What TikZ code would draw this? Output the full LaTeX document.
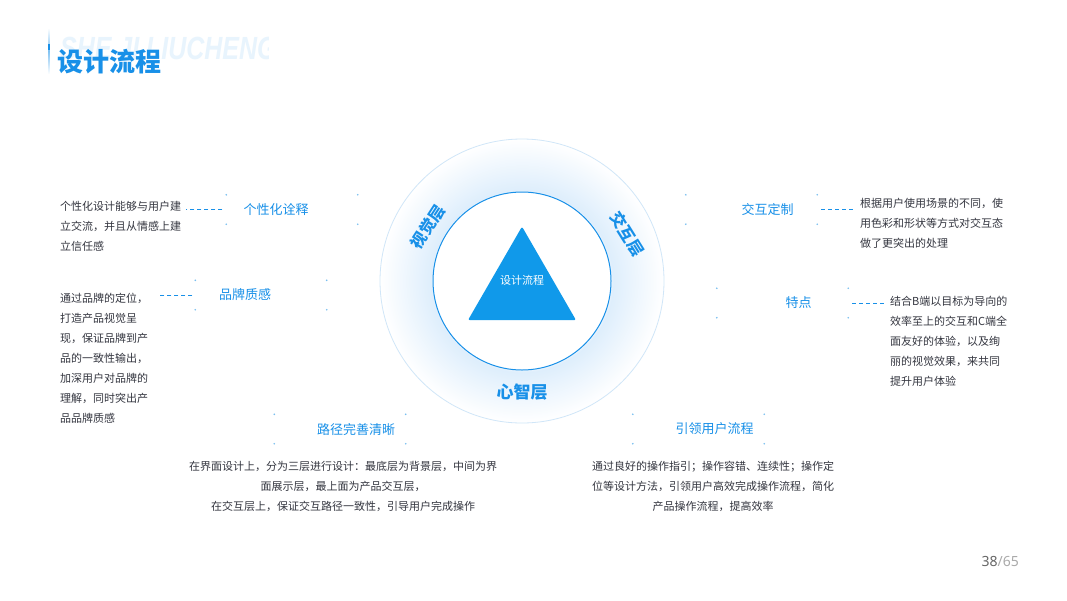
\documentclass[tikz,border=0pt]{standalone}
\usepackage{fontspec}
\setmainfont{Noto Sans CJK SC}
\newfontfamily\wmfont{Liberation Sans}
\newfontfamily\pgfont{Noto Sans}
\usepackage{tikz}
\usetikzlibrary{arrows.meta, positioning, shapes.geometric, calc}
\definecolor{mainblue}{RGB}{24,144,232}
\definecolor{triblue}{RGB}{16,153,234}
\definecolor{bodygrey}{RGB}{52,54,64}
\definecolor{ringblue}{RGB}{208,230,248}
\definecolor{glowblue}{RGB}{222,238,252}
\definecolor{markblue}{RGB}{120,190,240}
\definecolor{wmblue}{RGB}{232,244,253}
\definecolor{pgdark}{RGB}{102,102,102}
\definecolor{pglight}{RGB}{170,170,170}
\pgfdeclareradialshading{halo}{\pgfpoint{0bp}{0bp}}{color(0bp)=(white); color(15bp)=(white); color(16bp)=(glowblue); color(20bp)=(glowblue!55!white); color(25bp)=(white); color(50bp)=(white)}

\begin{document}
\begin{tikzpicture}[
    x=1pt, y=-1pt,
    body/.style={font=\fontsize{11}{20}\selectfont, text=bodygrey, inner sep=0pt, align=left},
    lbl/.style={font=\fontsize{13}{15}\selectfont, text=mainblue, inner sep=0pt},
    mbox/.style={minimum width=131pt, minimum height=29pt, inner sep=0pt},
    layer/.style={font=\fontsize{16}{18}\selectfont\bfseries, text=mainblue, inner sep=0pt},
    dashln/.style={mainblue, line width=1pt, dash pattern=on 4pt off 3pt}
]
\fill[white] (0,0) rectangle (1067,600);
\useasboundingbox (0,0) rectangle (1067,600);
\begin{scope}
\clip (55,20) rectangle (268,80);
\node[anchor=base west, inner sep=0pt, xscale=0.78, text=wmblue, font=\wmfont\fontsize{32}{32}\selectfont\bfseries\itshape] (wm) at (60,59) {SHE JI LIUCHENG};
\end{scope}
\shade[top color=white, bottom color=white, middle color=mainblue!55] (48.5,28) rectangle (49.5,74);
\fill[mainblue] (48,44) rectangle (50,50);
\node[anchor=west, inner sep=0pt, text=mainblue, font=\fontsize{26}{26}\selectfont\bfseries] (title) at (57,62) {设计流程};
\node[circle, minimum size=284pt, draw=ringblue, line width=0.8pt, shading=halo] (outer) at (522,281) {};
\node[circle, minimum size=178pt, draw=mainblue, line width=1pt, fill=white] (inner) at (outer) {};
\node[regular polygon, regular polygon sides=3, minimum size=124.8pt, inner sep=0pt, fill=triblue, rounded corners=2pt] (tri) at (522,289) {};
\node[font=\fontsize{11}{13}\selectfont, text=white, inner sep=0pt] (trilbl) at (522,280) {设计流程};
\node[layer, rotate=57] (vis) at (428,227) {视觉层};
\node[layer, rotate=-58] (inter) at (627,234) {交互层};
\node[layer, font=\fontsize{17}{18}\selectfont\bfseries] (mind) at (522,392) {心智层};
\node[mbox] (b1) at (292,209.5) {};
\node[mbox] (b2) at (261,295) {};
\node[mbox] (b3) at (751.5,209.5) {};
\node[mbox] (b4) at (782.5,303) {};
\node[mbox] (b5) at (340,429) {};
\node[mbox] (b6) at (698.5,429) {};
\foreach \b in {b1,b2,b3,b4,b5,b6}
  \foreach \c in {north west, north east, south west, south east}
    \fill[markblue] (\b.\c) circle (0.9);
\node[lbl, xshift=-16pt] (l1) at (b1) {个性化诠释};
\node[lbl, xshift=-16pt] (l2) at (b2) {品牌质感};
\node[lbl, xshift=16pt] (l3) at (b3) {交互定制};
\node[lbl, xshift=16pt] (l4) at (b4) {特点};
\node[lbl, xshift=16pt] (l5) at (b5) {路径完善清晰};
\node[lbl, xshift=16pt] (l6) at (b6) {引领用户流程};
\node[body, anchor=west] (t1) at (60,226) {个性化设计能够与用户建\\立交流，并且从情感上建\\立信任感};
\node[body, anchor=west] (t2) at (60,358) {通过品牌的定位，\\打造产品视觉呈\\现，保证品牌到产\\品的一致性输出，\\加深用户对品牌的\\理解，同时突出产\\品品牌质感};
\node[body, anchor=west] (t3) at (860,223) {根据用户使用场景的不同，使\\用色彩和形状等方式对交互态\\做了更突出的处理};
\node[body, anchor=west] (t4) at (890,341) {结合B端以目标为导向的\\效率至上的交互和C端全\\面友好的体验，以及绚\\丽的视觉效果，来共同\\提升用户体验};
\node[body, align=center] (t5) at (343,486) {在界面设计上，分为三层进行设计：最底层为背景层，中间为界\\面展示层，最上面为产品交互层，\\在交互层上，保证交互路径一致性，引导用户完成操作};
\node[body, align=center] (t6) at (713,486) {通过良好的操作指引；操作容错、连续性；操作定\\位等设计方法，引领用户高效完成操作流程，简化\\产品操作流程，提高效率};
\draw[dashln] ([xshift=-4pt]b1.west) -- ([xshift=5pt]t1.east |- b1.west);
\draw[dashln] ([xshift=-3pt]b2.west) -- ([xshift=9pt]t2.east |- b2.west);
\draw[dashln] ([xshift=4pt]b3.east) -- ([xshift=-6pt]t3.west |- b3.east);
\draw[dashln] ([xshift=4pt]b4.east) -- ([xshift=-5pt]t4.west |- b4.east);
\node[anchor=east, inner sep=0pt, font=\pgfont\fontsize{14}{14}\selectfont] (pg) at (1019,561) {\textcolor{pgdark}{38}\textcolor{pglight}{/65}};
\end{tikzpicture}
\end{document}
